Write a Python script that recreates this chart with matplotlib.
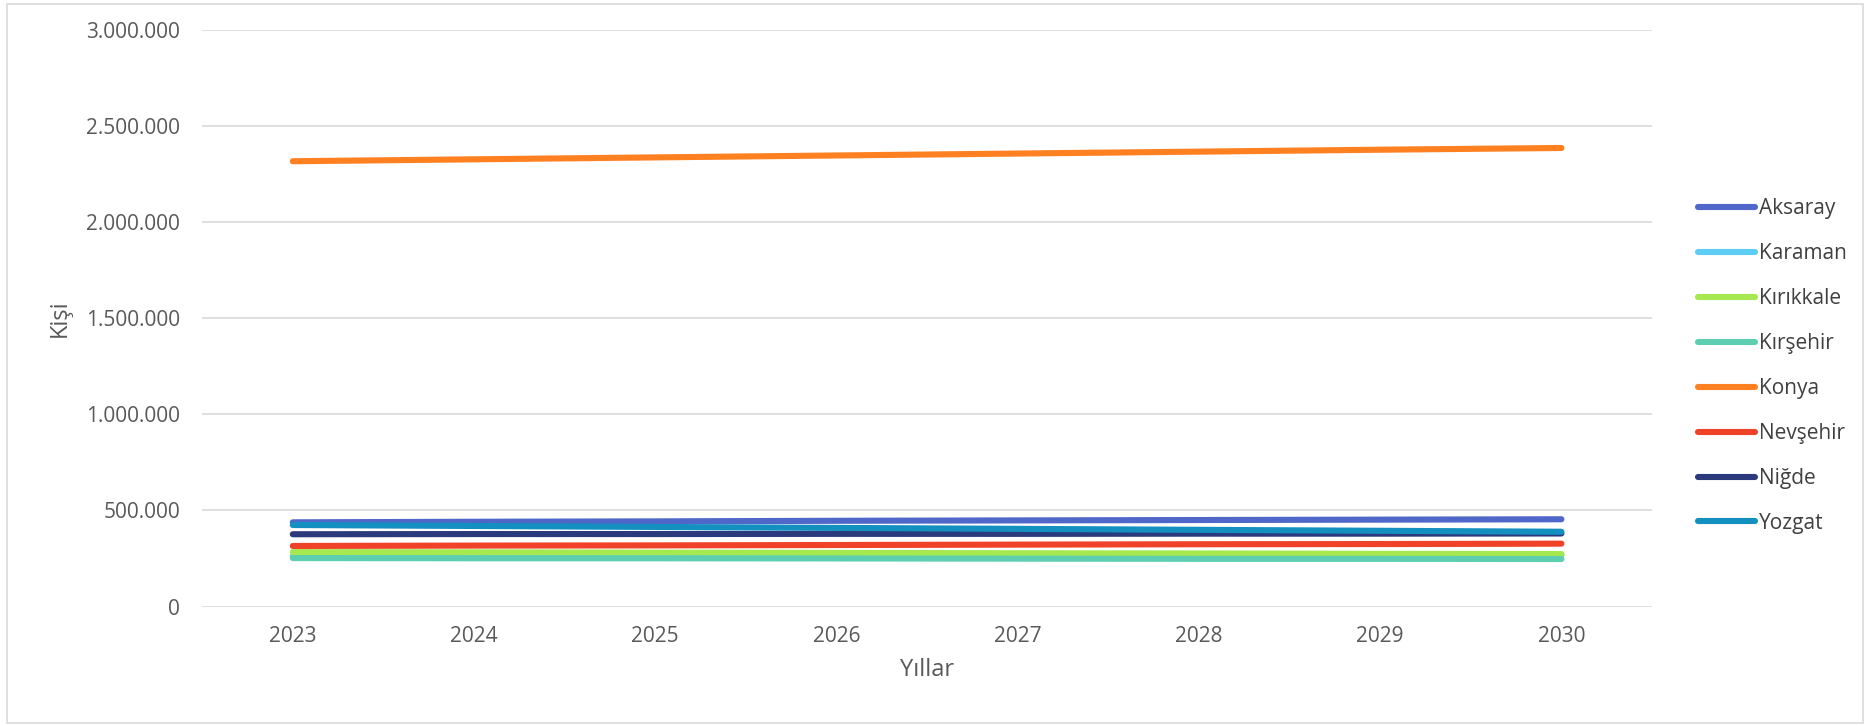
import matplotlib
matplotlib.use("Agg")
import matplotlib.pyplot as plt
from matplotlib.patches import Rectangle
from matplotlib.ticker import FuncFormatter

plt.rcParams['font.family'] = ['Open Sans', 'DejaVu Sans']

# VERILER (kisi) -----------------------------------
years = ['2023', '2024', '2025', '2026', '2027', '2028', '2029', '2030']
aksaray = [438000, 441000, 443000, 446000, 448000, 450000, 452000, 454000]
karaman = [262000, 263000, 264000, 265000, 266000, 266000, 267000, 268000]
kirikkale = [283000, 282000, 280000, 279000, 277000, 276000, 274000, 273000]
kirsehir = [252000, 251000, 251000, 250000, 249000, 248000, 248000, 247000]
konya = [2317000, 2327000, 2337000, 2347000, 2357000, 2367000, 2377000, 2386000]
nevsehir = [315000, 317000, 318000, 320000, 322000, 324000, 325000, 327000]
nigde = [376000, 377000, 377000, 378000, 378000, 379000, 379000, 380000]
yozgat = [424000, 419000, 414000, 409000, 404000, 399000, 394000, 389000]

names = ['Aksaray', 'Karaman', 'Kırıkkale', 'Kırşehir', 'Konya', 'Nevşehir', 'Niğde', 'Yozgat']
series = [aksaray, karaman, kirikkale, kirsehir, konya, nevsehir, nigde, yozgat]
colors = ['#4e67c8', '#5ecdf3', '#a5e84f', '#5dcfb0', '#ff8021', '#f04228', '#2a3a7c', '#1390c0']

fig = plt.figure(figsize=(18.72, 7.26), dpi=100)
ax = fig.add_axes([0.108, 0.1646, 0.7745, 0.7941])

x = range(len(years))
for s, n, c in zip(series, names, colors):
    ax.plot(x, s, color=c, lw=4.4, label=n, solid_capstyle='round')

ax.set_xlim(-0.5, 7.5)
ax.set_ylim(0, 3000000)
ax.set_yticks([0, 500000, 1000000, 1500000, 2000000, 2500000, 3000000])
ax.yaxis.set_major_formatter(FuncFormatter(lambda v, p: f'{int(v):,}'.replace(',', '.')))
ax.set_xticks(list(x))
ax.set_xticklabels(years)
ax.grid(axis='y', color='#d9d9d9', lw=1.2)
ax.set_axisbelow(True)
for sp in ax.spines.values():
    sp.set_visible(False)
ax.tick_params(length=0, labelsize=15, colors='#595959', pad=16)
ax.tick_params(axis='x', pad=14)

ax.set_xlabel('Yıllar', fontsize=17, color='#595959', labelpad=8)
ax.set_ylabel('Kişi', fontsize=17, color='#595959', labelpad=10)

ax.legend(loc='center left', bbox_to_anchor=(0.897, 0.496), bbox_transform=fig.transFigure,
          frameon=False, fontsize=15, labelspacing=1.15, handlelength=2.74, handletextpad=0.2,
          labelcolor='#404040')

fig.patches.append(Rectangle((0.004, 0.004), 0.991, 0.99, transform=fig.transFigure,
                             fill=False, edgecolor='#d9d9d9', lw=1.2))

fig.savefig('out.png', dpi=100)
